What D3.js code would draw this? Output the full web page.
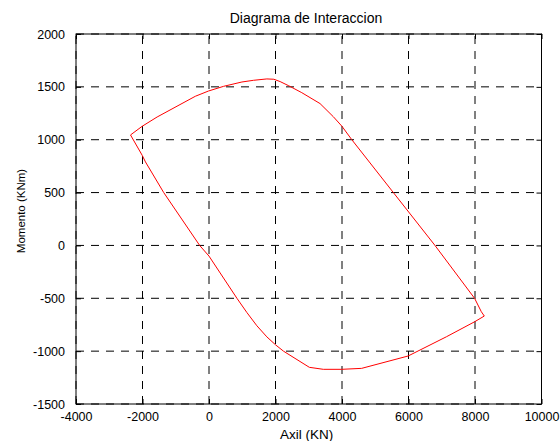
<!DOCTYPE html>
<html>
<head>
<meta charset="utf-8">
<script src="https://cdn.jsdelivr.net/npm/d3@7"></script>
<style>
  html, body { margin: 0; padding: 0; background: #fff; }
  svg { display: block; }
  text { font-family: "Liberation Sans", Arial, Helvetica, sans-serif; fill: #000; }
</style>
</head>
<body>
<svg id="chart" width="560" height="441"></svg>
<script>
// ---- data ----
const axil = [-2360, -2010, -1560, -411, -12, 438, 990, 1338, 1740, 1950, 2139, 2400, 2790, 3339, 3738, 3999, 4290, 5545, 6789, 7989, 8190, 8280, 7989, 7140, 5988, 4590, 3990, 3438, 3018, 2240, 2000, 1740, 1440, 1140, 840, 0, -281, -1362, -1911, -2010, -2360];
const momento = [1045, 1127, 1215, 1411, 1461, 1505, 1546, 1562, 1575, 1572, 1550, 1510, 1445, 1342, 1218, 1127, 1002, 500, 3, -501, -627, -668, -722, -864, -1046, -1163, -1172, -1172, -1153, -1000, -940, -865, -760, -635, -500, -101, 0, 500, 790, 853, 1045];
const xTicks = [-4000, -2000, 0, 2000, 4000, 6000, 8000, 10000];
const yTicks = [-1500, -1000, -500, 0, 500, 1000, 1500, 2000];
const titleText = "Diagrama de Interaccion";
const xLabelText = "Axil (KN)";
const yLabelText = "Momento (KNm)";

// ---- layout ----
const pLeft = 76, pRight = 541.5, pTop = 34, pBottom = 404;
const svg = d3.select("#chart");

const x = d3.scaleLinear().domain([-4000, 10000]).range([pLeft, pRight]);
const y = d3.scaleLinear().domain([-1500, 2000]).range([pBottom, pTop]);
const fmt = d => String(d);

// grid
const grid = svg.append("g");
grid.selectAll("line.gx").data(xTicks).join("line")
  .attr("class", "gx")
  .attr("x1", d => x(d)).attr("x2", d => x(d))
  .attr("y1", pBottom).attr("y2", pTop)
  .attr("stroke", "#000").attr("stroke-width", 1)
  .attr("stroke-dasharray", "8,7");
grid.selectAll("line.gy").data(yTicks).join("line")
  .attr("class", "gy")
  .attr("x1", pLeft).attr("x2", pRight)
  .attr("y1", d => y(d)).attr("y2", d => y(d))
  .attr("stroke", "#000").attr("stroke-width", 1)
  .attr("stroke-dasharray", "8,7");

// curve
const line = d3.line().x(d => x(d[0])).y(d => y(d[1]));
const pts = axil.map((a, i) => [a, momento[i]]);
svg.append("path")
  .attr("d", line(pts))
  .attr("fill", "none")
  .attr("stroke", "#ff0000")
  .attr("stroke-width", 1)
  .attr("stroke-linejoin", "round");

// axes (ticks inward, on all four sides)
const tl = 5;
const axB = d3.axisBottom(x).tickValues(xTicks).tickSizeInner(-tl).tickSizeOuter(0).tickPadding(8).tickFormat(fmt);
const axT = d3.axisTop(x).tickValues(xTicks).tickSizeInner(-tl).tickSizeOuter(0).tickFormat("");
const axL = d3.axisLeft(y).tickValues(yTicks).tickSizeInner(-tl).tickSizeOuter(0).tickPadding(11).tickFormat(fmt);
const axR = d3.axisRight(y).tickValues(yTicks).tickSizeInner(-tl).tickSizeOuter(0).tickFormat("");

function styleAxis(g) {
  g.select(".domain").remove();
  g.selectAll(".tick line").attr("stroke", "#000");
  g.selectAll(".tick text")
    .style("font-family", '"Liberation Sans", Arial, sans-serif')
    .style("font-size", "12.5px").attr("fill", "#000");
}
svg.append("g").attr("transform", `translate(0,${pBottom})`).call(axB).call(styleAxis);
svg.append("g").attr("transform", `translate(0,${pTop})`).call(axT).call(styleAxis);
svg.append("g").attr("transform", `translate(${pLeft},0)`).call(axL).call(styleAxis);
svg.append("g").attr("transform", `translate(${pRight},0)`).call(axR).call(styleAxis);

// box
svg.append("rect")
  .attr("x", pLeft).attr("y", pTop)
  .attr("width", pRight - pLeft).attr("height", pBottom - pTop)
  .attr("fill", "none").attr("stroke", "#000").attr("stroke-width", 1);

// labels
svg.append("text").attr("x", 306).attr("y", 23.3)
  .attr("text-anchor", "middle").style("font-size", "14px").text(titleText);
svg.append("text").attr("x", 306.7).attr("y", 438.5)
  .attr("text-anchor", "middle").style("font-size", "13.5px").text(xLabelText);
svg.append("text").attr("transform", "translate(25,211) rotate(-90)")
  .attr("text-anchor", "middle").style("font-size", "11.5px").text(yLabelText);
</script>
</body>
</html>
